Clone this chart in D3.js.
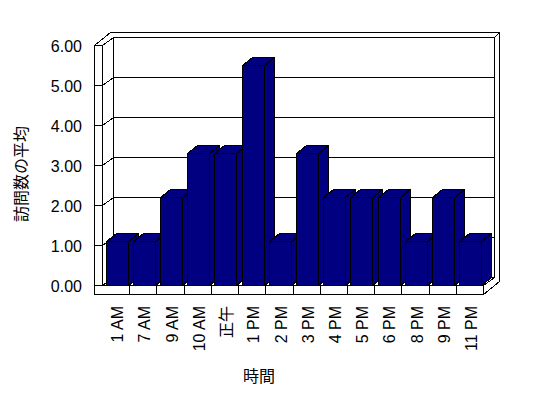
<!DOCTYPE html>
<html><head><meta charset="utf-8">
<script src="https://cdn.jsdelivr.net/npm/d3@7"></script>
<style>
html,body{margin:0;padding:0;background:#fff;}
svg{display:block;}
path,rect{shape-rendering:crispEdges;}
</style>
</head><body>
<svg id="c" width="548" height="398"></svg>
<script>
const categories = ["1 AM","7 AM","9 AM","10 AM","正午","1 PM","2 PM","3 PM","4 PM","5 PM","6 PM","8 PM","9 PM","11 PM"];
const visitAverages = [1.1,1.1,2.2,3.3,3.3,5.5,1.1,3.3,2.2,2.2,2.2,1.1,2.2,1.1];
const yTickValues = [0,1,2,3,4,5,6];
const yTitle = "訪問数の平均";
const xTitle = "時間";

const svg = d3.select("#c");
const latin = "'Liberation Sans', Arial, sans-serif";
const cjk = "'Noto Sans CJK JP', sans-serif";

const x = d3.scaleBand().domain(categories).range([102.5, 483.5]).padding(0);
const y = d3.scaleLinear().domain([0, 6]).range([285.5, 45.5]);
const depth = {dx: 11, dy: -8};      // front plane -> back wall face
const outer = {dx: 16, dy: -13};     // front plane -> back of wall slab
const wallW = 8, floorH = 9;
const xL = x.range()[0], xR = x.range()[1];
const y0 = y(0), yTop = y(6);

const g = svg.append("g").attr("fill", "none").attr("stroke", "#000").attr("stroke-width", 1);
const line = d3.line();

// outer silhouette of walls + floor
g.append("path").attr("fill", "#fff").attr("d", line([
  [xL - wallW, yTop], [xL - wallW + outer.dx, yTop + outer.dy], [xR + outer.dx, yTop + outer.dy],
  [xR + outer.dx, y0 + floorH + outer.dy], [xR, y0 + floorH], [xL - wallW, y0 + floorH]
]) + "Z");

// left wall inner edge & top
g.append("path").attr("d", line([[xL, y0], [xL, yTop], [xL + depth.dx, yTop + depth.dy]]));
// back wall face
g.append("path").attr("d", line([
  [xL + depth.dx, y0 + depth.dy], [xL + depth.dx, yTop + depth.dy],
  [xR + depth.dx, yTop + depth.dy], [xR + depth.dx, y0 + depth.dy]
]));
g.append("path").attr("d", line([[xR + depth.dx, yTop + depth.dy], [xR + outer.dx, yTop + outer.dy]]));
// floor
g.append("path").attr("d", line([[xL, y0], [xR, y0], [xR + depth.dx, y0 + depth.dy]]));
g.append("path").attr("d", line([[xR, y0], [xR, y0 + floorH]]));
g.append("path").attr("d", line([[xL, y0], [xL + depth.dx, y0 + depth.dy]]));

// gridlines and wall ticks
yTickValues.forEach(v => {
  const yy = y(v);
  g.append("path").attr("d", line([
    [xL - wallW, yy], [xL, yy], [xL + depth.dx, yy + depth.dy], [xR + depth.dx, yy + depth.dy]
  ]));
});

// category ticks on floor front
categories.forEach((c, i) => {
  const xx = x(c);
  if (i > 0) g.append("path").attr("d", line([[xx, y0], [xx, y0 + floorH]]));
});

// bars
const bw = 22, boff = 3, bdx = 10, bdy = -8;
const bars = svg.append("g").attr("fill", "#000080").attr("stroke", "#000").attr("stroke-width", 1)
  .attr("stroke-linejoin", "miter");
categories.forEach((c, i) => {
  const v = visitAverages[i];
  const x0 = Math.round(x(c) + boff) + 0.5, x1 = x0 + bw;
  const yt = Math.round(y(v) - 0.5) + 0.5, yb = y0;
  const bg = bars.append("g");
  bg.append("path").attr("d", line([[x1, yt], [x1 + bdx, yt + bdy], [x1 + bdx, yb + bdy], [x1, yb]]) + "Z");
  bg.append("path").attr("d", line([[x0, yt], [x0 + bdx, yt + bdy], [x1 + bdx, yt + bdy], [x1, yt]]) + "Z");
  bg.append("rect").attr("x", x0).attr("y", yt).attr("width", bw).attr("height", yb - yt);
});

// y tick labels
const fmt = d3.format(".2f");
svg.append("g").selectAll("text").data(yTickValues).join("text")
  .attr("x", 82).attr("y", d => y(d) + 1).attr("dy", "0.35em")
  .attr("text-anchor", "end").attr("font-family", latin).attr("font-size", 16)
  .attr("fill", "#000").text(d => fmt(d));

// x tick labels (rotated)
svg.append("g").selectAll("text").data(categories).join("text")
  .attr("transform", d => `translate(${x(d) + x.bandwidth() / 2 + 1.5},306) rotate(-90)`)
  .attr("text-anchor", "end").attr("dy", "0.35em")
  .attr("font-family", d => /[^\x00-\x7f]/.test(d) ? cjk : latin).attr("font-size", 16)
  .attr("fill", "#000").text(d => d);

// axis titles
svg.append("text").attr("transform", "translate(21.5,174) rotate(-90)")
  .attr("text-anchor", "middle").attr("dy", "0.35em")
  .attr("font-family", cjk).attr("font-size", 16).attr("fill", "#000").text(yTitle);
svg.append("text").attr("x", 259).attr("y", 376).attr("dy", "0.35em")
  .attr("text-anchor", "middle").attr("font-family", cjk).attr("font-size", 16)
  .attr("fill", "#000").text(xTitle);
</script>
</body></html>
